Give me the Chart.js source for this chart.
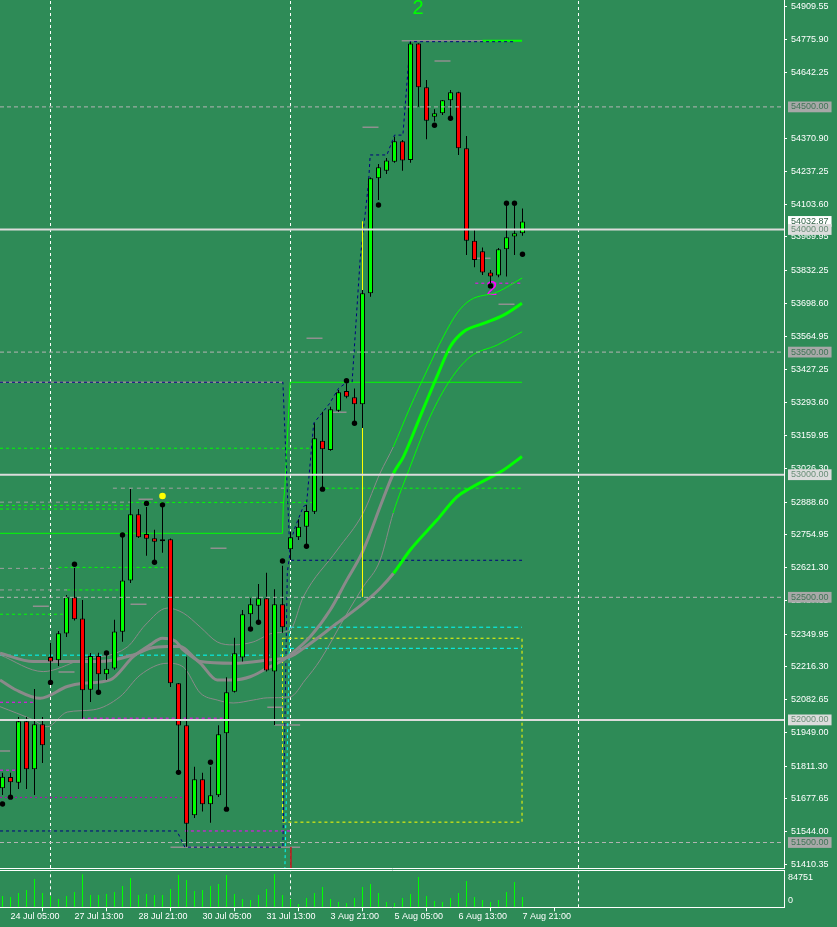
<!DOCTYPE html>
<html><head><meta charset="utf-8">
<script src="https://cdn.jsdelivr.net/npm/chart.js@4.4.1/dist/chart.umd.min.js"></script>
<style>
html,body{margin:0;padding:0;background:#2e8b57;}
#wrap{position:relative;width:837px;height:927px;background:#2e8b57;overflow:hidden;}
#pc{position:absolute;left:0;top:0;}
#vc{position:absolute;left:0;top:866px;}
</style></head><body>
<div id="wrap"><canvas id="pc" width="837" height="870"></canvas><canvas id="vc" width="837" height="61"></canvas></div>
<script>
// ---------------- DATA ----------------
const candleOpen  = [51721,51767,51744,51994,51799,51982,52257,52243,52352,52500,52414,52123,52261,52186,52210,52360,52569,52839,52758,52741,52731,52737,52149,51978,51611,51758,51656,51693,51946,52115,52255,52431,52466,52496,52197,52472,52696,52745,52788,52849,53138,53101,53261,53341,53316,53287,53740,54209,54240,54276,54360,54283,54759,54580,54460,54474,54527,54560,54331,53954,53911,53825,53812,53919,53971,53985];
const candleHigh  = [51784,51784,52012,52012,52126,52012,52314,52363,52509,52620,52489,52273,52274,52273,52408,52762,52942,52860,52868,52775,52868,52740,52150,52258,51809,51784,51809,51978,52174,52335,52448,52496,52554,52600,52533,52629,52768,52818,52877,53210,53257,53277,53345,53373,53352,53753,54212,54267,54292,54378,54365,54765,54760,54610,54490,54528,54569,54562,54381,53998,53927,53835,53925,54107,54107,54086];
const candleLow   = [51694,51686,51718,51718,51694,51824,52156,52220,52338,52405,52005,52073,52122,52163,52205,52319,52558,52742,52669,52645,52682,52134,51796,51483,51600,51626,51581,51686,51641,52112,52238,52380,52401,52197,51979,52355,52652,52734,52706,52840,52941,53098,53257,53312,53212,53190,53726,54120,54226,54272,54240,54272,54501,54368,54440,54467,54458,54304,53896,53846,53814,53782,53805,53808,53896,53975];
const candleClose = [51768,51746,51994,51799,51982,51897,52238,52353,52500,52410,52121,52261,52186,52209,52361,52569,52839,52745,52739,52727,52729,52149,51977,51576,51758,51656,51693,51941,52113,52272,52431,52472,52496,52201,52472,52378,52745,52788,52852,53149,53104,53267,53336,53318,53287,53740,54209,54254,54281,54360,54281,54759,54580,54444,54474,54527,54560,54331,53954,53876,53825,53808,53919,53968,53985,54032.87];
const volumes = [28800,26300,36400,44100,72000,36400,28800,21200,28800,39000,84100,31400,31400,33900,39000,54200,74600,31400,33900,31400,31400,46600,82200,69500,41500,44100,54200,59300,82200,33900,21200,18600,31400,46600,84751,31400,21200,8500,23700,36400,51700,21200,13600,11000,23700,51700,59300,36400,13600,11000,23700,33900,77100,28800,16100,13600,23700,36400,67000,26300,18600,13600,18600,39000,64400,26300];

const xTickIndex  = [1,9,17,25,33,41,49,57,65];
const xTickLabels = ['24 Jul 05:00','27 Jul 13:00','28 Jul 21:00','30 Jul 05:00','31 Jul 13:00','3 Aug 21:00','5 Aug 05:00','6 Aug 13:00','7 Aug 21:00'];
const priceTickLabels = ['54909.55','54775.90','54642.25','54370.90','54237.25','54103.60','53969.95','53832.25','53698.60','53564.95','53427.25','53293.60','53159.95','53026.30','52888.60','52754.95','52621.30','52487.65','52349.95','52216.30','52082.65','51949.00','51811.30','51677.65','51544.00','51410.35'];
const currentPrice = 54032.87;
const levelSolid  = [54000,53000,52000];
const levelDashed = [54500,53500,52500,51500];
const volTickLabels = ['84751','0'];
const separatorIdx = [6,36,72];

const fractalDots = [[0,51657],[1,51685],[6,52153],[9,52635],[12,52113],[13,52273],[15,52754],[18,52883],[19,52643],[20,52877],[22,51786],[26,51827],[28,51636],[31,52371],[32,52398],[35,52648],[38,52708],[40,52941],[43,53383],[44,53210],[47,54100],[54,54425],[56,54454],[61,53770],[63,54107],[64,54107],[65,53899]];
const yellowDot = [[20,52913]];

const maFast = [[-0.31,52163],[1.71,52122],[4.71,52088],[8.09,52136],[10.09,52149],[13.46,52163],[16.34,52258],[18.46,52306],[19.96,52333],[21.59,52322],[22.59,52285],[24.71,52232],[26.84,52163],[28.84,52163],[30.96,52176],[33.09,52211],[35.09,52244],[35.96,52265],[38.46,52339],[40.96,52448],[43.05,52571],[44.93,52680],[45.96,52761],[47.21,52870],[48.88,53006],[50.13,53074],[52.21,53237],[54.3,53400],[55.96,53522],[57.63,53583],[60.13,53617],[62.63,53651],[64.93,53699]];
const maSlow = [[-0.31,52272],[3.84,52238],[8.09,52238],[12.21,52238],[16.34,52265],[18.46,52292],[20.59,52299],[22.21,52299],[24.71,52238],[28.84,52231],[33.09,52244],[35.96,52258],[37.63,52292],[41.8,52394],[45.13,52476],[47.21,52537],[48.88,52598],[50.96,52693],[54.3,52815],[56.8,52910],[58.46,52945],[62.63,53019],[64.93,53074]];
const envUpper = [[-0.31,52265],[5.09,52197],[9.71,52244],[15.59,52297],[17.84,52387],[20.59,52456],[22.59,52436],[24.71,52379],[26.84,52318],[28.84,52306],[31.34,52318],[33.84,52354],[35.96,52367],[37.59,52501],[41.84,52693],[45.09,52844],[47.21,53007],[48.84,53113],[50.96,53276],[53.09,53427],[55.09,53562],[56.84,53660],[58.46,53712],[61.84,53745],[64.96,53802]];
const envLower = [[-0.31,52054],[3.84,52000],[5.59,51972],[8.09,52032],[11.34,52041],[14.71,52095],[17.21,52183],[20.59,52231],[22.59,52216],[24.71,52110],[26.84,52081],[28.84,52069],[31.34,52081],[33.09,52090],[35.96,52094],[37.84,52163],[39.71,52244],[43.09,52436],[45.09,52543],[47.21,52652],[48.84,52844],[50.96,53033],[53.46,53237],[55.96,53386],[58.46,53481],[61.84,53529],[64.96,53583]];

const navyUpper = [[-0.31,53377],[35.05,53377],[35.96,52651],[64.94,52651]];
const navyLower = [[-0.31,51547],[21.8,51547],[22.8,51481],[35.05,51481],[35.6,52600],[36.2,52747],[36.6,52788],[37.6,52870],[38.0,52877],[38.9,53210],[39.9,53250],[40.9,53291],[42.0,53352],[43.05,53377],[43.7,53377],[44.7,53876],[45.75,54188],[45.96,54304],[48.05,54304],[49.0,54385],[50.05,54385],[50.96,54766],[63.9,54766]];
const greenSolidPath = [[-0.31,52761],[35.0,52761],[35.1,52877],[35.3,52951],[35.96,53377],[64.94,53377]];
const greenTopPath = [[60.0,54770],[64.94,54770]];
const yellowRect = [[35.0,52333],[64.94,52333],[64.94,51583],[35.0,51583],[35.0,52333]];
const yellowVertical = [[45,54032],[45,52503]];
const cyanVertical = [[35.9,52378],[35.3,51396]];
const redVertical = [[36.05,51481],[36.05,51396]];

const graySegs = [[49.9,61.0,54770],[54.0,56.0,54687],[45.0,47.0,54417],[59.1,61.0,53883],[62.0,64.0,53695],[38.0,40.0,53556],[41.2,43.0,53255],[17.0,18.8,52900],[26.0,28.0,52700],[16.0,18.0,52472],[3.8,5.8,52463],[7.0,9.0,52195],[-0.31,0.96,51873],[33.1,35.1,52052],[34.0,37.2,51979],[21.0,37.2,51481],[-0.31,35.05,53377]];
const grayDashSegs = [[13.8,35.96,52945],[-0.31,15.96,52888],[-0.31,7.0,52618],[-0.31,8.1,52530]];
const greenDashSegs = [[-0.31,38.5,53108],[38.9,64.94,52945],[15.96,38.9,52887],[-0.31,15.96,52875],[-0.31,15.96,52860],[7.0,20.6,52622],[8.1,14.7,52530],[-0.31,7.8,52431]];
const magentaSegs = [[-0.31,3.8,52072],[9.9,28.05,52007],[-0.31,1.6,51795],[22.8,35.96,51547],[59.1,64.94,53781]];
const magentaThinSegs = [[-0.31,22.6,51684]];
const cyanSegs = [[-0.31,35.96,52264],[35.96,64.94,52378],[35.05,64.94,52292]];

const waveLabels = ['2','2'];
const waveIdx = [51.96,61.15];
const wavePrice = [54901,53755];

// ---------------- STYLE / LAYOUT ----------------
const X_MIN = -0.3125, X_MAX = 97.6875;
const P_MIN = 51396, P_MAX = 54936;
const V_MAX = 95000;
const LIME = '#00ff00', RED = '#ff0000', GRAY_MA = '#8a8a8a';
const FONT = {family:'"Liberation Sans", Arial, sans-serif', size:9};

const pts = a => a.map(([x,y]) => ({x, y}));
const seg = list => { const o = []; list.forEach(([a,b,p]) => { o.push({x:a,y:p},{x:b,y:p},{x:b,y:null}); }); return o; };
const fullLevels = vals => seg(vals.map(v => [X_MIN, X_MAX, v]));
function lineDS(data, color, width, dash, order, extra) {
  return Object.assign({type:'line', data, borderColor:color, borderWidth:width, borderDash:dash||[], pointRadius:0, pointHoverRadius:0, fill:false, spanGaps:false, tension:0, order}, extra||{});
}
const maSegment = {borderColor: c => c.p0.parsed.x >= 48.8 ? LIME : GRAY_MA};

const idx = candleOpen.map((_, i) => i);
const bodyColors = idx.map(i => Math.abs(candleClose[i]-candleOpen[i]) < 5 ? '#000000' : (candleClose[i] > candleOpen[i] ? LIME : RED));

const allTickText = priceTickLabels.concat([currentPrice.toFixed(2)], levelDashed.map(v=>v.toFixed(2)), levelSolid.map(v=>v.toFixed(2)));
const allTickValues = allTickText.map(parseFloat);
const nReg = priceTickLabels.length;
function kind(i) {
  if (i === undefined || i < nReg) return 'reg';
  const v = allTickValues[i];
  if (v === currentPrice) return 'cur';
  if (levelSolid.includes(v)) return 'solid';
  return 'dash';
}

const waveText = {
  id:'waveText',
  beforeDatasetsDraw(chart) {
    const {ctx, scales:{x, y}} = chart;
    const cols = ['#00ff00', '#ff00ff'];
    ctx.save();
    ctx.font = '20px "Liberation Sans", Arial, sans-serif';
    ctx.textAlign = 'center'; ctx.textBaseline = 'middle';
    waveLabels.forEach((t, k) => { ctx.fillStyle = cols[k]; ctx.fillText(t, x.getPixelForValue(waveIdx[k]), y.getPixelForValue(wavePrice[k])); });
    ctx.restore();
  }
};

const priceDatasets = [
  lineDS(fullLevels(levelSolid), '#dcdcdc', 2, [], 0),
  lineDS(fullLevels(levelDashed), '#b4b4b4', 1, [4,3], 0),
  {type:'line', data: pts(fractalDots), showLine:false, pointRadius:2.7, pointBackgroundColor:'#000', pointBorderWidth:0, order:1},
  {type:'line', data: pts(yellowDot), showLine:false, pointRadius:3.3, pointBackgroundColor:'#ffff00', pointBorderWidth:0, order:1},
  {type:'bar', data: idx.map(i => ({x:i, y:[candleOpen[i], candleClose[i]]})), backgroundColor: bodyColors, borderColor:'#000', borderWidth:1, borderSkipped:false, barThickness:5, grouped:false, minBarLength:2, inflateAmount:0, order:2},
  {type:'bar', data: idx.map(i => ({x:i, y:[candleLow[i], candleHigh[i]]})), backgroundColor:'#000', borderWidth:0, barThickness:1, grouped:false, inflateAmount:0, order:3},
  lineDS(pts(yellowVertical), '#ffff00', 1, [], 4),
  lineDS(pts(maFast), GRAY_MA, 3, [], 5, {segment: maSegment, cubicInterpolationMode:'monotone'}),
  lineDS(pts(maSlow), GRAY_MA, 3, [], 5, {segment: maSegment, cubicInterpolationMode:'monotone'}),
  lineDS(pts(envUpper), GRAY_MA, 1, [], 5, {segment: maSegment, cubicInterpolationMode:'monotone'}),
  lineDS(pts(envLower), GRAY_MA, 1, [], 5, {segment: maSegment, cubicInterpolationMode:'monotone'}),
  lineDS(pts(navyUpper), '#000080', 1, [3,3], 6),
  lineDS(pts(navyLower), '#000080', 1, [3,3], 6),
  lineDS(pts(greenSolidPath), LIME, 1, [], 7),
  lineDS(pts(greenTopPath), LIME, 2, [], 7),
  lineDS(pts(yellowRect), '#ffff00', 1, [3,3], 7),
  lineDS(pts(cyanVertical), '#00ffff', 1, [3,3], 7),
  lineDS(pts(redVertical), '#b22222', 1, [], 7),
  lineDS(seg(greenDashSegs), LIME, 1, [3,3], 8),
  lineDS(seg(magentaSegs), '#ff00ff', 1, [3,3], 8),
  lineDS(seg(magentaThinSegs), '#c000c0', 1, [2,3], 8),
  lineDS(seg(cyanSegs), '#00ffff', 1, [4,3], 8),
  lineDS(seg(graySegs), '#909090', 1.5, [], 8),
  lineDS(seg(grayDashSegs), '#a0a0a0', 1, [4,4], 8)
];
separatorIdx.forEach(i => priceDatasets.push(lineDS([{x:i,y:P_MIN},{x:i,y:P_MAX}], '#ffffff', 1, [3,3], 9)));

new Chart(document.getElementById('pc'), {
  type:'bar',
  data:{datasets: priceDatasets},
  plugins:[waveText],
  options:{
    responsive:false, animation:false, events:[],
    layout:{autoPadding:false, padding:{top:0,left:0,right:0,bottom:2}},
    plugins:{legend:{display:false}, tooltip:{enabled:false}},
    scales:{
      x:{type:'linear', min:X_MIN, max:X_MAX, offset:false, display:true,
         ticks:{display:false}, grid:{display:false, drawTicks:false},
         border:{display:true, color:'#ffffff', width:1},
         afterFit: s => { s.height = 0; s.paddingLeft = 0; s.paddingRight = 0; }},
      y:{type:'linear', position:'right', min:P_MIN, max:P_MAX,
         afterBuildTicks: s => { s.ticks = allTickValues.map(v => ({value:v})); },
         afterFit: s => { s.width = 53; s.paddingTop = 0; s.paddingBottom = 0; },
         ticks:{autoSkip:false, padding:4, font:FONT,
           callback:(v, i) => allTickText[i],
           color: c => ({reg:'#ffffff', cur:'#2f5f45', solid:'#6a8f78', dash:'#3f7556'})[kind(c.index)],
           showLabelBackdrop: c => kind(c.index) !== 'reg',
           backdropColor: c => ({cur:'#ffffff', solid:'#dcdcdc', dash:'#a8a8a8'})[kind(c.index)] || 'rgba(0,0,0,0)',
           backdropPadding:{top:0,bottom:0,left:3,right:3}},
         grid:{display:true, drawOnChartArea:false, drawTicks:true, tickLength:3, color:'#ffffff',
           tickColor: c => kind(c.index) === 'reg' ? '#ffffff' : 'rgba(0,0,0,0)'},
         border:{display:true, color:'#ffffff', width:1}}
    }
  }
});

// ---------------- VOLUME PANEL ----------------
const volTickPos = [74600, 16600];
const volDatasets = [
  {type:'bar', data: idx.map(i => ({x:i, y:volumes[i]})), backgroundColor:LIME, borderWidth:0, barThickness:1, grouped:false, inflateAmount:0, order:1}
];
separatorIdx.forEach(i => volDatasets.push(lineDS([{x:i,y:0},{x:i,y:V_MAX}], '#ffffff', 1, [3,3], 2)));

new Chart(document.getElementById('vc'), {
  type:'bar',
  data:{datasets: volDatasets},
  options:{
    responsive:false, animation:false, events:[],
    layout:{autoPadding:false, padding:{top:4,left:0,right:0,bottom:0}},
    plugins:{legend:{display:false}, tooltip:{enabled:false}},
    scales:{
      x:{type:'linear', position:'bottom', min:X_MIN, max:X_MAX, offset:false,
         afterBuildTicks: s => { s.ticks = xTickIndex.map(v => ({value:v})); },
         afterFit: s => { s.height = 19.7; s.paddingLeft = 0; s.paddingRight = 0; },
         ticks:{autoSkip:false, maxRotation:0, minRotation:0, align:'start', padding:0, color:'#ffffff', font:FONT,
           callback:(v, i) => xTickLabels[i]},
         grid:{display:true, drawOnChartArea:false, drawTicks:true, tickLength:4, color:'#ffffff'},
         border:{display:true, color:'#ffffff', width:1}},
      x2:{type:'linear', position:'top', min:X_MIN, max:X_MAX, offset:false, display:true,
         ticks:{display:false}, grid:{display:false, drawTicks:false},
         border:{display:true, color:'#ffffff', width:1},
         afterFit: s => { s.height = 0; s.paddingLeft = 0; s.paddingRight = 0; }},
      y:{type:'linear', position:'right', min:0, max:V_MAX,
         afterBuildTicks: s => { s.ticks = volTickPos.map(v => ({value:v})); },
         afterFit: s => { s.width = 53; s.paddingTop = 0; s.paddingBottom = 0; },
         ticks:{autoSkip:false, padding:4, color:'#ffffff', font:FONT, callback:(v, i) => volTickLabels[i]},
         grid:{display:true, drawOnChartArea:false, drawTicks:false},
         border:{display:true, color:'#ffffff', width:1}}
    }
  }
});
</script>
</body></html>
